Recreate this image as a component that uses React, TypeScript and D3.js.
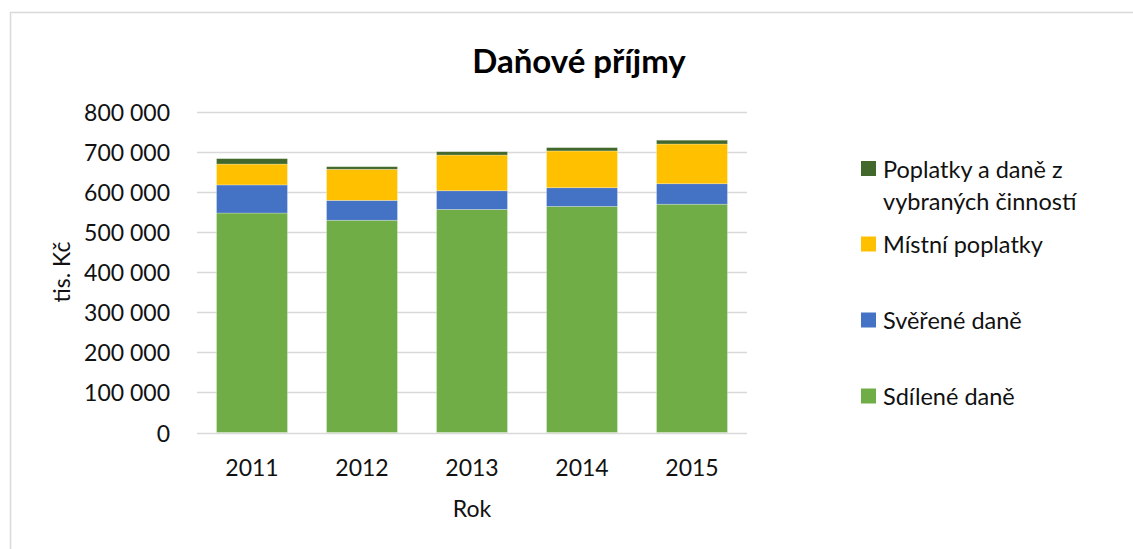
import React from "react";
import * as d3 from "d3";

const years = ["2011", "2012", "2013", "2014", "2015"];
const sdileneDane = [547000, 529000, 556000, 563500, 569000];
const svereneDane = [70000, 49500, 46500, 46500, 51000];
const mistniPoplatky = [52000, 77500, 89000, 91700, 99000];
const poplatkyCinnosti = [13500, 6500, 8300, 8300, 9500];
const yTicks = [0, 100000, 200000, 300000, 400000, 500000, 600000, 700000, 800000];

const seriesNames = ["Sdílené daně", "Svěřené daně", "Místní poplatky", "Poplatky a daně z vybraných činností"];
const seriesColors = ["#70ad47", "#4472c4", "#ffc000", "#43682b"];

const W = 1133;
const H = 549;
const FONT = "Lato, 'Open Sans', sans-serif";

export default function App() {
  const rows = years.map((y, i) => ({
    year: y,
    s0: sdileneDane[i],
    s1: svereneDane[i],
    s2: mistniPoplatky[i],
    s3: poplatkyCinnosti[i],
  }));
  const stack = d3.stack<any>().keys(["s0", "s1", "s2", "s3"]);
  const layers = stack(rows);

  const x = d3.scaleBand().domain(years).range([197, 747]).paddingInner(0.355).paddingOuter(0.1775);
  const y = d3.scaleLinear().domain([0, 800000]).range([432.5, 111.5]);
  const fmt = d3.formatLocale({ decimal: ",", thousands: "\u00a0", grouping: [3], currency: ["", ""] }).format(",d");

  const legendItems = [
    { idx: 3, lines: ["Poplatky a daně z", "vybraných činností"], y: 168.5 },
    { idx: 2, lines: ["Místní poplatky"], y: 244 },
    { idx: 1, lines: ["Svěřené daně"], y: 320 },
    { idx: 0, lines: ["Sdílené daně"], y: 396 },
  ];

  return (
    <svg width={W} height={H} style={{ position: "absolute", left: 0, top: 0, background: "#fff" }} fontFamily={FONT}>
      <rect x={10.5} y={12.5} width={W + 20} height={H + 20} fill="#fff" stroke="#d9d9d9" strokeWidth={1.5} />
      <text x={579} y={60} textAnchor="middle" dominantBaseline="central" fontSize={33} fontWeight={700} fill="#000">
        Daňové příjmy
      </text>
      {yTicks.map((t) => (
        <g key={t}>
          <line x1={197} x2={747} y1={Math.round(y(t)) + 0.5} y2={Math.round(y(t)) + 0.5} stroke="#d9d9d9" strokeWidth={1.5} />
          <text x={170} y={y(t)} textAnchor="end" dominantBaseline="central" fontSize={23} fill="#111">
            {fmt(t)}
          </text>
        </g>
      ))}
      {layers.map((layer, li) => (
        <g key={li} fill={seriesColors[li]}>
          {layer.map((d, i) => (
            <rect
              key={i}
              x={x(years[i])}
              width={x.bandwidth()}
              y={y(d[1])}
              height={y(d[0]) - y(d[1])}
              stroke="#ffffff"
              strokeOpacity={0.35}
              strokeWidth={0.75}
            />
          ))}
        </g>
      ))}
      {years.map((yr) => (
        <text key={yr} x={(x(yr) as number) + x.bandwidth() / 2} y={467} textAnchor="middle" dominantBaseline="central" fontSize={23} fill="#111">
          {yr}
        </text>
      ))}
      <text x={472} y={508} textAnchor="middle" dominantBaseline="central" fontSize={23} fill="#111">
        Rok
      </text>
      <text transform="translate(61,272) rotate(-90)" textAnchor="middle" dominantBaseline="central" fontSize={23} fill="#111">
        tis. Kč
      </text>
      {legendItems.map((it) => (
        <g key={it.idx}>
          <rect x={861} y={it.y - 7.5} width={15} height={15} fill={seriesColors[it.idx]} />
          {it.lines.map((ln, k) => (
            <text key={k} x={883} y={it.y + k * 32} dominantBaseline="central" fontSize={23.5} fill="#111">
              {ln}
            </text>
          ))}
        </g>
      ))}
      <title>{seriesNames.join(", ")}</title>
    </svg>
  );
}
